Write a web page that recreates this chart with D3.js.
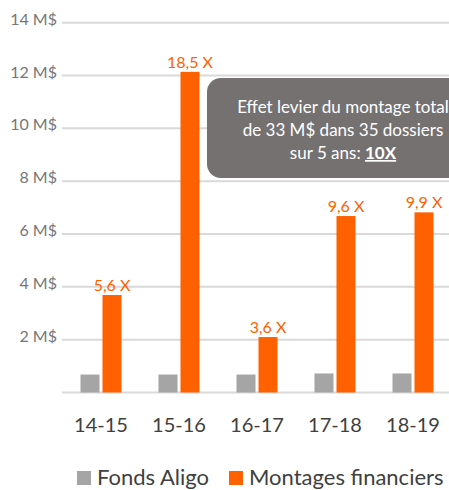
<!DOCTYPE html>
<html>
<head>
<meta charset="utf-8">
<script src="https://cdn.jsdelivr.net/npm/d3@7"></script>
<style>
  body { margin: 0; background: #fff; }
  svg { display: block; font-family: Lato, "Noto Sans", sans-serif; }
</style>
</head>
<body>
<div id="chart"></div>
<script>
// chart data
const categories = ["14-15", "15-16", "16-17", "17-18", "18-19"];
const seriesNames = ["Fonds Aligo", "Montages financiers"];
const fondsAligo = [0.68, 0.68, 0.68, 0.72, 0.72];
const montages = [3.69, 12.14, 2.1, 6.68, 6.82];
const leverLabels = ["5,6 X", "18,5 X", "3,6 X", "9,6 X", "9,9 X"];
const yTicks = [0, 2, 4, 6, 8, 10, 12, 14];
const boxLines = ["Effet levier du montage total", "de 33 M$ dans 35 dossiers"];

const W = 449, H = 490;
const colors = { "Fonds Aligo": "#a5a5a5", "Montages financiers": "#ff6000" };

const svg = d3.select("#chart")
    .append("svg")
    .attr("width", W)
    .attr("height", H);

// scales
const x0 = d3.scaleBand()
    .domain(categories)
    .range([62, 452])
    .padding(0);

const x1 = d3.scaleBand()
    .domain(seriesNames)
    .range([0, x0.bandwidth()])
    .paddingInner(0.136)
    .paddingOuter(0.84);

const y = d3.scaleLinear()
    .domain([0, 14])
    .range([392.5, 22.7]);

// gridlines
svg.append("g")
    .selectAll("line")
    .data(yTicks)
    .enter().append("line")
    .attr("x1", 62)
    .attr("x2", 452)
    .attr("y1", d => y(d))
    .attr("y2", d => y(d))
    .attr("stroke", "#d9d9d9")
    .attr("stroke-width", 2);

// y axis labels
const yAxis = d3.axisLeft(y)
    .tickValues(yTicks.filter(d => d > 0))
    .tickSize(0)
    .tickPadding(5)
    .tickFormat(d => d + " M$");

svg.append("g")
    .attr("transform", "translate(62,0)")
    .call(yAxis)
    .call(g => g.select(".domain").remove())
    .selectAll("text")
    .attr("dy", "0.1em")
    .attr("fill", "#767676")
    .style("font-size", "16px")
    .style("font-family", "Lato, sans-serif");

// bars
const rows = categories.map((c, i) => ({
    cat: c,
    vals: [
        { key: seriesNames[0], v: fondsAligo[i] },
        { key: seriesNames[1], v: montages[i] }
    ],
    label: leverLabels[i]
}));

const groups = svg.append("g")
    .selectAll("g")
    .data(rows)
    .enter().append("g")
    .attr("transform", d => `translate(${x0(d.cat)},0)`);

groups.selectAll("rect")
    .data(d => d.vals)
    .enter().append("rect")
    .attr("x", d => x1(d.key))
    .attr("y", d => y(d.v))
    .attr("width", x1.bandwidth())
    .attr("height", d => y(0) - y(d.v))
    .attr("fill", d => colors[d.key]);

// leverage labels on orange bars
groups.append("text")
    .attr("x", x1(seriesNames[1]) + x1.bandwidth() / 2)
    .attr("y", d => y(d.vals[1].v) - 4)
    .attr("text-anchor", "middle")
    .attr("fill", "#ff6000")
    .style("font-size", "16px")
    .text(d => d.label);

// callout box
svg.append("rect")
    .attr("x", 207)
    .attr("y", 78)
    .attr("width", 280)
    .attr("height", 100)
    .attr("rx", 14)
    .attr("fill", "#757171");

const boxText = svg.append("g")
    .attr("fill", "#fff")
    .attr("text-anchor", "middle")
    .style("font-size", "17px");

boxText.selectAll("text.line")
    .data(boxLines)
    .enter().append("text")
    .attr("class", "line")
    .attr("x", 343)
    .attr("y", (d, i) => 113 + i * 23)
    .text(d => d);

const last = boxText.append("text")
    .attr("x", 343)
    .attr("y", 159);
last.append("tspan").text("sur 5 ans: ");
last.append("tspan")
    .attr("font-weight", "bold")
    .attr("text-decoration", "underline")
    .text("10X");

// x axis labels
svg.append("g")
    .selectAll("text")
    .data(categories)
    .enter().append("text")
    .attr("x", d => x0(d) + x0.bandwidth() / 2)
    .attr("y", 432)
    .attr("text-anchor", "middle")
    .attr("fill", "#404040")
    .style("font-size", "20px")
    .text(d => d);

// legend
const legendPos = [77, 229];
const legend = svg.append("g")
    .selectAll("g")
    .data(seriesNames)
    .enter().append("g")
    .attr("transform", (d, i) => `translate(${legendPos[i]},471)`);

legend.append("rect")
    .attr("width", 14)
    .attr("height", 14)
    .attr("fill", d => colors[d]);

legend.append("text")
    .attr("x", 20)
    .attr("y", 14)
    .attr("fill", "#404040")
    .style("font-size", "22px")
    .text(d => d);
</script>
</body>
</html>
